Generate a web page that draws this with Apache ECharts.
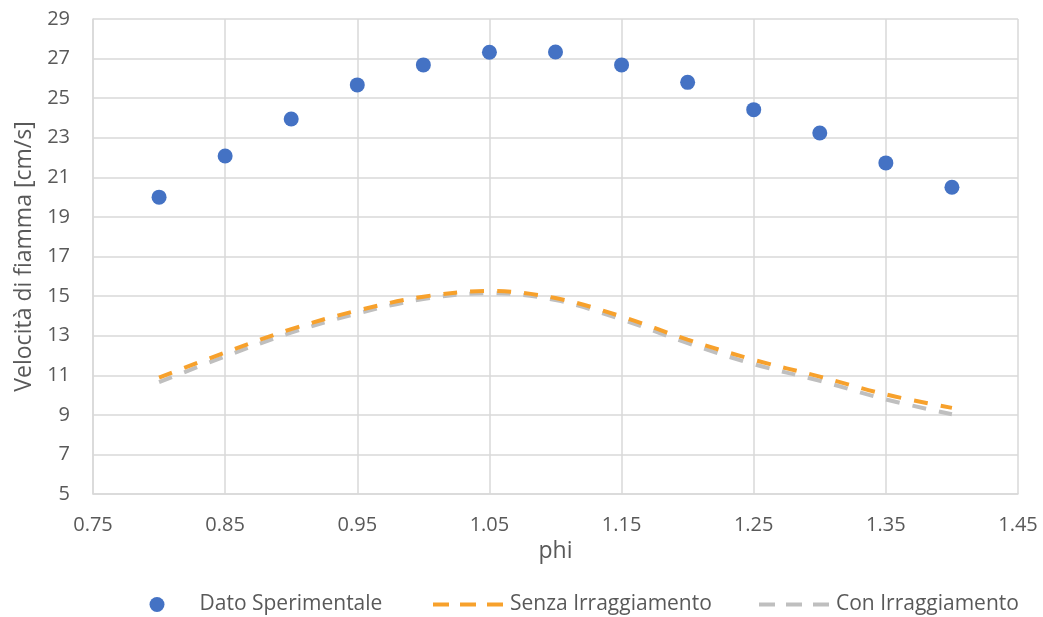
<!DOCTYPE html>
<html>
<head>
<meta charset="utf-8">
<script src="https://cdn.jsdelivr.net/npm/echarts@6/dist/echarts.min.js"></script>
<style>
  html, body { margin: 0; padding: 0; background: #fff; }
  #chart { width: 1043px; height: 617px; }
</style>
</head>
<body>
<div id="chart"></div>
<script>
// Equivalence ratio values
const phi = [0.80, 0.85, 0.90, 0.95, 1.00, 1.05, 1.10, 1.15, 1.20, 1.25, 1.30, 1.35, 1.40];

// Measured flame speed [cm/s]
const datoSperimentale = [20.0, 22.08, 23.95, 25.67, 26.68, 27.32, 27.33, 26.68, 25.8, 24.42, 23.24, 21.73, 20.5];

// Computed flame speed without radiation [cm/s]
const senzaIrraggiamento = [10.88, 12.15, 13.33, 14.27, 14.97, 15.26, 14.9, 13.97, 12.8, 11.78, 10.93, 10.03, 9.35];

// Computed flame speed with radiation [cm/s]
const conIrraggiamento = [10.65, 11.95, 13.15, 14.12, 14.85, 15.15, 14.8, 13.82, 12.62, 11.56, 10.72, 9.78, 9.03];

const seriesNames = ['Dato Sperimentale', 'Senza Irraggiamento', 'Con Irraggiamento'];

const pairs = (ys) => phi.map((x, i) => [x, ys[i]]);

const FONT = 'Open Sans';
const TEXT_COLOR = '#595959';
const GRID_COLOR = '#d9d9d9';
const BLUE = '#4472C4';
const ORANGE = '#F7A12C';
const GRAY = '#BFBFBF';

const chart = echarts.init(document.getElementById('chart'), null, { renderer: 'canvas' });

const legendText = { fontFamily: FONT, fontSize: 21, color: TEXT_COLOR };

// one legend block per series so each entry sits at its own spot
const lineLegend = (name, left) => ({
  data: [name],
  left: left, top: 594,
  padding: 0,
  itemWidth: 70, itemHeight: 16, itemGap: 0,
  itemStyle: { opacity: 0 },
  lineStyle: { width: 4, type: [16, 11] },
  textStyle: Object.assign({ padding: [0, 0, 0, 2] }, legendText)
});

chart.setOption({
  animation: false,
  backgroundColor: '#ffffff',
  grid: { left: 93, right: 25, top: 19, bottom: 123, containLabel: false },
  xAxis: {
    type: 'value',
    min: 0.75,
    max: 1.45,
    interval: 0.1,
    name: 'phi',
    nameLocation: 'middle',
    nameGap: 41,
    nameTextStyle: { fontFamily: FONT, fontSize: 23, color: TEXT_COLOR },
    axisLine: { show: true, lineStyle: { color: GRID_COLOR, width: 1.5 } },
    axisTick: { show: false },
    axisLabel: {
      margin: 21,
      fontFamily: FONT, fontSize: 20, color: TEXT_COLOR,
      formatter: (v) => v.toFixed(2)
    },
    splitLine: { show: true, lineStyle: { color: GRID_COLOR, width: 1.5 } }
  },
  yAxis: {
    type: 'value',
    min: 5,
    max: 29,
    interval: 2,
    name: 'Velocità di fiamma [cm/s]',
    nameLocation: 'middle',
    nameGap: 55,
    nameTextStyle: { fontFamily: FONT, fontSize: 23, color: TEXT_COLOR },
    axisLine: { show: true, lineStyle: { color: GRID_COLOR, width: 1.5 } },
    axisTick: { show: false },
    axisLabel: { margin: 23, fontFamily: FONT, fontSize: 20, color: TEXT_COLOR },
    splitLine: { show: true, lineStyle: { color: GRID_COLOR, width: 1.5 } }
  },
  legend: [
    {
      data: [seriesNames[0]],
      left: 149.5, top: 594,
      padding: 0,
      itemWidth: 15, itemHeight: 15, itemGap: 0,
      textStyle: Object.assign({ padding: [0, 0, 0, 30] }, legendText)
    },
    lineLegend(seriesNames[1], 431),
    lineLegend(seriesNames[2], 757)
  ],
  series: [
    {
      name: seriesNames[0],
      type: 'scatter',
      data: pairs(datoSperimentale),
      symbol: 'circle',
      symbolSize: 15,
      itemStyle: { color: BLUE, opacity: 1 },
      z: 5
    },
    {
      name: seriesNames[1],
      type: 'line',
      data: pairs(senzaIrraggiamento),
      smooth: 0.35,
      symbol: 'none',
      itemStyle: { color: ORANGE },
      lineStyle: { color: ORANGE, width: 4, type: [14, 13] },
      z: 4
    },
    {
      name: seriesNames[2],
      type: 'line',
      data: pairs(conIrraggiamento),
      smooth: 0.35,
      symbol: 'none',
      itemStyle: { color: GRAY },
      lineStyle: { color: GRAY, width: 4, type: [14, 13] },
      z: 3
    }
  ]
});
</script>
</body>
</html>
